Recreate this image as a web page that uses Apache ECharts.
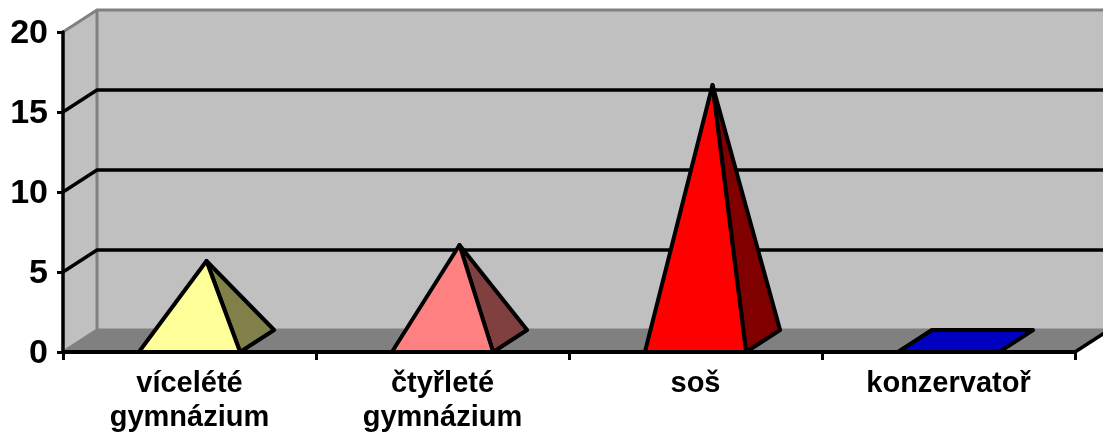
<!DOCTYPE html>
<html><head><meta charset="utf-8">
<style>html,body{margin:0;padding:0;background:#fff}#c{width:1103px;height:432px}</style>
<script src="https://cdn.jsdelivr.net/npm/echarts@6/dist/echarts.min.js"></script>
</head><body><div id="c"></div>
<script>
const categories = ['vícelété\ngymnázium', 'čtyřleté\ngymnázium', 'soš', 'konzervatoř'];
const values = [5, 6, 16, 0];
const frontColors = ['#ffff99', '#ff8080', '#ff0000', '#0000c0'];
const sideColors = ['#808048', '#804040', '#800000', '#000060'];
const yTicks = [0, 5, 10, 15, 20];

const DX = 34, DY = 22, BASE_RATIO = 0.4;
const chart = echarts.init(document.getElementById('c'), null, {renderer: 'canvas'});
const black = {stroke: '#000', lineWidth: 4, lineJoin: 'round'};

function renderWalls(params, api) {
  if (params.dataIndex !== 0) return null;
  const band = api.size([1, 0])[0];
  const x0 = api.coord([0, 0])[0] - band / 2;
  const x1 = x0 + band * categories.length;
  const y0 = api.coord([0, 0])[1];
  const yTop = api.coord([0, yTicks[yTicks.length - 1]])[1];
  const kids = [
    {type: 'polygon', shape: {points: [[x0 + DX, yTop - DY], [x1 + DX, yTop - DY], [x1 + DX, y0 - DY], [x0 + DX, y0 - DY]]}, style: {fill: '#c0c0c0'}},
    {type: 'polygon', shape: {points: [[x0, yTop], [x0 + DX, yTop - DY], [x0 + DX, y0 - DY], [x0, y0]]}, style: {fill: '#c0c0c0'}},
    {type: 'polygon', shape: {points: [[x0, y0], [x0 + DX, y0 - DY], [x1 + DX, y0 - DY], [x1, y0]]}, style: {fill: '#808080'}},
    {type: 'polyline', shape: {points: [[x1 + DX, yTop - DY], [x0 + DX, yTop - DY], [x0, yTop]]}, style: {fill: 'none', stroke: '#808080', lineWidth: 3}},
    {type: 'polyline', shape: {points: [[x0 + DX, yTop - DY], [x0 + DX, y0 - DY], [x0, y0]]}, style: {fill: 'none', stroke: '#808080', lineWidth: 3}},
    {type: 'line', shape: {x1: x0 + DX, y1: y0 - DY, x2: x1 + DX, y2: y0 - DY}, style: {stroke: '#808080', lineWidth: 3}},
    {type: 'line', shape: {x1: x1, y1: y0, x2: x1 + DX, y2: y0 - DY}, style: {stroke: '#000', lineWidth: 3.5}}
  ];
  yTicks.slice(1, -1).forEach(t => {
    const y = api.coord([0, t])[1];
    kids.push({type: 'polyline', shape: {points: [[x0, y], [x0 + DX, y - DY], [x1 + DX, y - DY]]}, style: {fill: 'none', stroke: '#000', lineWidth: 3.5}});
  });
  return {type: 'group', children: kids};
}

function renderPyramid(params, api) {
  const i = api.value(0), v = api.value(1);
  const [cx, yv] = api.coord([i, v]);
  const y0 = api.coord([i, 0])[1];
  const w = api.size([1, 0])[0] * BASE_RATIO;
  const L = cx - w / 2, R = cx + w / 2;
  if (v === 0) {
    return {type: 'polygon', shape: {points: [[L, y0], [R, y0], [R + DX, y0 - DY], [L + DX, y0 - DY]]},
      style: Object.assign({fill: frontColors[i]}, black)};
  }
  const apex = [cx + DX / 2, yv - DY / 2];
  return {type: 'group', children: [
    {type: 'polygon', shape: {points: [[R, y0], [R + DX, y0 - DY], apex]}, style: Object.assign({fill: sideColors[i]}, black)},
    {type: 'polygon', shape: {points: [[L, y0], [R, y0], apex]}, style: Object.assign({fill: frontColors[i]}, black)}
  ]};
}

const rows = values.map((v, i) => [i, v]);
chart.setOption({
  animation: false,
  backgroundColor: '#fff',
  grid: {left: 63, top: 32, width: 1012, height: 320, outerBoundsMode: 'none', containLabel: false},
  xAxis: {
    type: 'category', data: categories, boundaryGap: true, z: 5,
    axisLine: {show: true, lineStyle: {color: '#000', width: 4}},
    axisTick: {show: true, length: 8, lineStyle: {color: '#000', width: 3}},
    axisLabel: {interval: 0, margin: 15, color: '#000', fontFamily: 'Liberation Sans', fontWeight: 'bold', fontSize: 29, lineHeight: 34}
  },
  yAxis: {
    type: 'value', min: 0, max: 20, interval: 5, z: 5,
    axisLine: {show: true, lineStyle: {color: '#000', width: 3.5}},
    axisTick: {show: true, length: 6, lineStyle: {color: '#000', width: 3}},
    splitLine: {show: false},
    axisLabel: {
      margin: 15, formatter: '{a|{value}}',
      rich: {a: {padding: [4, 0, 0, 0], color: '#000', fontFamily: 'Liberation Sans', fontWeight: 'bold', fontSize: 34}}
    }
  },
  series: [
    {type: 'custom', z: 1, silent: true, clip: false, data: rows, encode: {x: 0, y: 1}, renderItem: renderWalls},
    {type: 'custom', z: 3, silent: true, clip: false, data: rows, encode: {x: 0, y: 1}, renderItem: renderPyramid}
  ]
});
</script></body></html>
